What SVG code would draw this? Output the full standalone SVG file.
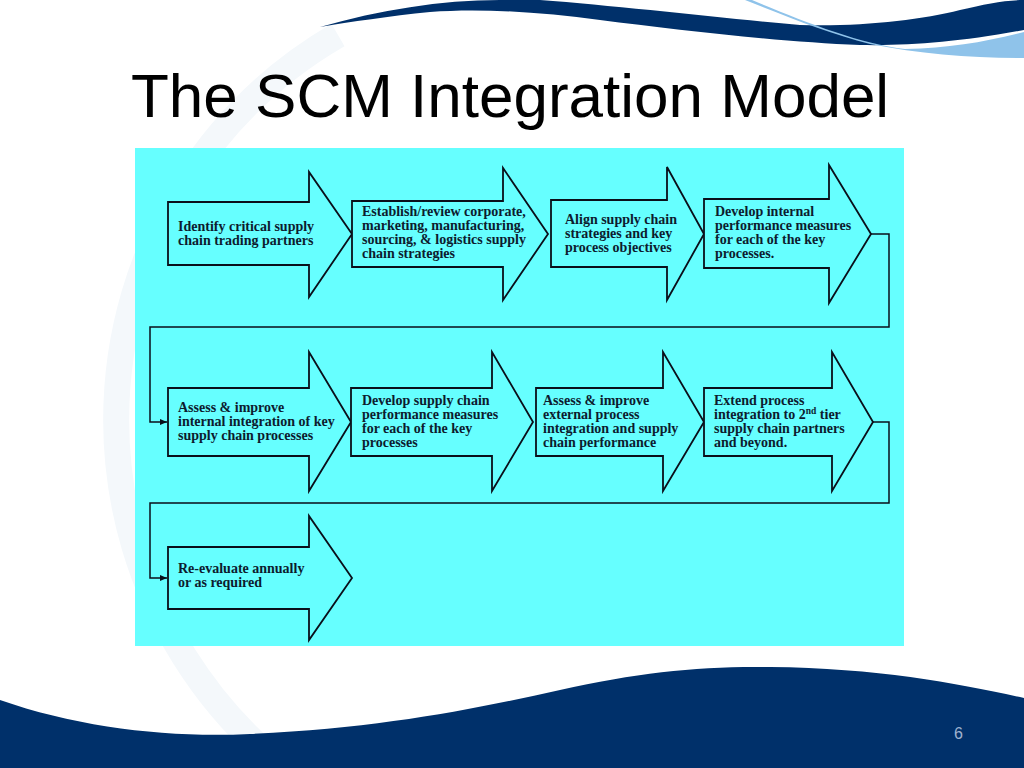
<svg xmlns="http://www.w3.org/2000/svg" width="1024" height="768" viewBox="0 0 1024 768">
<defs>
<style>
.arrow{fill:#66FFFF;stroke:#0a0f1a;stroke-width:1.8;stroke-linejoin:miter}
.lbl{font-family:"Liberation Serif","Times New Roman",serif;font-weight:bold;font-size:14px;fill:#0d1b2e}
.conn{fill:none;stroke:#0a0f1a;stroke-width:1.5}
.title{font-family:"Liberation Sans",Arial,sans-serif;font-size:62px;fill:#000}
</style>
<marker id="ah" viewBox="0 0 10 10" refX="10" refY="5" markerWidth="7" markerHeight="6" markerUnits="userSpaceOnUse" orient="auto" preserveAspectRatio="none">
<path d="M0,0 L10,5 L0,10 Z" fill="#0a0f1a"/>
</marker>
</defs>
<rect width="1024" height="768" fill="#ffffff"/>
<path d="M338,35 A445,445 0 0 0 338,805" fill="none" stroke="#f4f8fb" stroke-width="26"/>
<g id="decor-top">
<path d="M320,27 C380,10 440,0 500,0 L540,0 C620,6 720,18 800,25 C860,27 920,20 960,10 C985,4 1005,0 1024,0 L1024,30 C960,42 910,46 860,45 C780,42 680,30 600,20 C540,12 480,8 430,12 C390,16 350,22 320,27 Z" fill="#00306a"/>
<path d="M745,0 C790,18 830,34 870,44 C920,54 970,58 1024,58 L1024,32 C985,42 950,48 905,49 C860,44 800,20 752,0 Z" fill="#8fc3ea"/>
</g>
<g id="decor-bottom">
<path d="M0,700 C80,728 170,738 250,734 C380,728 470,710 560,690 C640,672 700,666 770,667 C880,668 960,684 1024,698 L1024,768 L0,768 Z" fill="#00306a"/>
<text x="954" y="739" font-family="Liberation Sans,Arial,sans-serif" font-size="16" fill="#9fb2cf">6</text>
</g>
<text class="title" x="131" y="117">The SCM Integration Model</text>
<rect x="135" y="148" width="769" height="498" fill="#66FFFF"/>
<g id="connectors">
<path class="conn" d="M871,234 H889 V327 H150 V422 H167" marker-end="url(#ah)"/>
<path class="conn" d="M873,422 H889 V503 H150 V578 H167" marker-end="url(#ah)"/>
</g>
<g id="n1">
<path class="arrow" d="M168,202 H309 V172 L352,234 L309,297 V265 H168 Z"/>
<text class="lbl" x="178" y="231">Identify critical supply</text>
<text class="lbl" x="178" y="245">chain trading partners</text>
</g>
<g id="n2">
<path class="arrow" d="M352,201 H503 V168 L548,234 L503,300 V267 H352 Z"/>
<text class="lbl" x="362" y="216">Establish/review corporate,</text>
<text class="lbl" x="362" y="230">marketing, manufacturing,</text>
<text class="lbl" x="362" y="244">sourcing, &amp; logistics supply</text>
<text class="lbl" x="362" y="258">chain strategies</text>
</g>
<g id="n3">
<path class="arrow" d="M551,200 H667 V167 L704,234 L667,300 V267 H551 Z"/>
<text class="lbl" x="565" y="224">Align supply chain</text>
<text class="lbl" x="565" y="238">strategies and key</text>
<text class="lbl" x="565" y="252">process objectives</text>
</g>
<g id="n4">
<path class="arrow" d="M704,199 H829 V165 L871,234 L829,303 V268 H704 Z"/>
<text class="lbl" x="715" y="216">Develop internal</text>
<text class="lbl" x="715" y="230">performance measures</text>
<text class="lbl" x="715" y="244">for each of the key</text>
<text class="lbl" x="715" y="258">processes.</text>
</g>
<g id="n5">
<path class="arrow" d="M168,388 H309 V352 L351,422 L309,491 V456 H168 Z"/>
<text class="lbl" x="178" y="412">Assess &amp; improve</text>
<text class="lbl" x="178" y="426">internal integration of  key</text>
<text class="lbl" x="178" y="440">supply chain processes</text>
</g>
<g id="n6">
<path class="arrow" d="M351,388 H492 V352 L533,422 L492,491 V456 H351 Z"/>
<text class="lbl" x="362" y="405">Develop supply chain</text>
<text class="lbl" x="362" y="419">performance measures</text>
<text class="lbl" x="362" y="433">for each of the key</text>
<text class="lbl" x="362" y="447">processes</text>
</g>
<g id="n7">
<path class="arrow" d="M536,388 H663 V352 L704,422 L663,491 V456 H536 Z"/>
<text class="lbl" x="543" y="405">Assess &amp; improve</text>
<text class="lbl" x="543" y="419">external process</text>
<text class="lbl" x="543" y="433">integration and supply</text>
<text class="lbl" x="543" y="447">chain performance</text>
</g>
<g id="n8">
<path class="arrow" d="M704,388 H832 V352 L873,422 L832,491 V456 H704 Z"/>
<text class="lbl" x="714" y="405">Extend process</text>
<text class="lbl" x="714" y="419">integration to 2<tspan font-size="9.5" dy="-5">nd</tspan><tspan dy="5"> tier</tspan></text>
<text class="lbl" x="714" y="433">supply chain partners</text>
<text class="lbl" x="714" y="447">and beyond.</text>
</g>
<g id="n9">
<path class="arrow" d="M168,547 H309 V516 L352,578 L309,640 V609 H168 Z"/>
<text class="lbl" x="178" y="573">Re-evaluate annually</text>
<text class="lbl" x="178" y="587">or as required</text>
</g>
</svg>
